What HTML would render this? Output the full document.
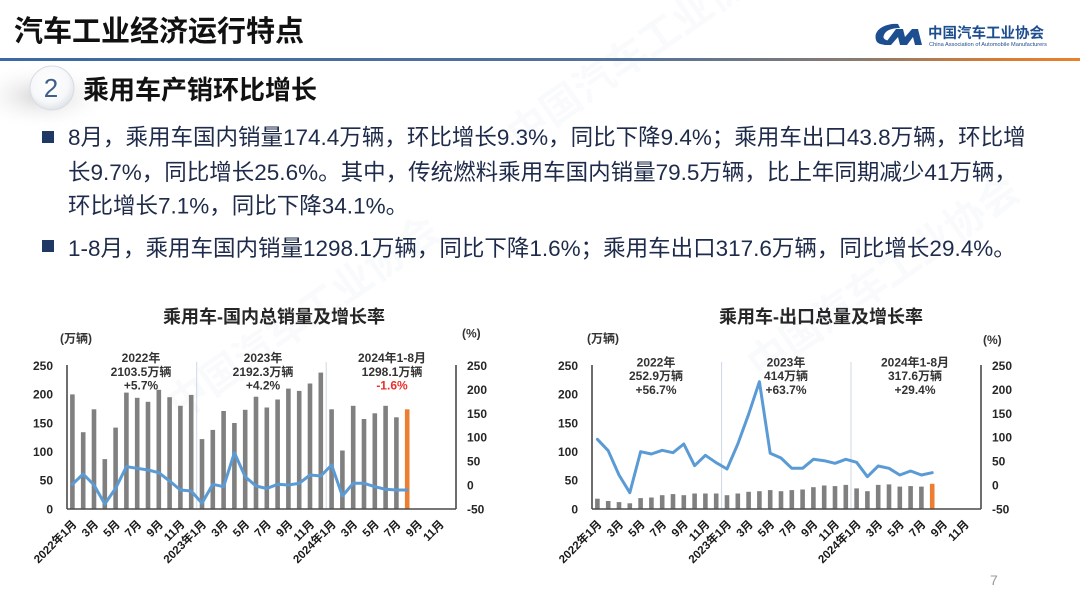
<!DOCTYPE html>
<html><head><meta charset="utf-8">
<style>
html,body{margin:0;padding:0;background:#fff;width:1080px;height:607px;overflow:hidden;}
svg{display:block}
text{font-family:"Liberation Sans","Noto Sans CJK SC",sans-serif;}
.b{font-weight:bold}
.tk{font-size:12px;font-weight:bold;fill:#262626}
.xl{font-size:11.5px;font-weight:bold;fill:#1a1a1a}
.an{font-size:12px;font-weight:bold;fill:#333}
.body{font-size:22.5px;fill:#1f2b4a}
</style></head><body>
<svg width="1080" height="607" viewBox="0 0 1080 607" xmlns="http://www.w3.org/2000/svg">
<defs>
<linearGradient id="hl" x1="0" x2="1" y1="0" y2="0">
<stop offset="0" stop-color="#3b69a3"/>
<stop offset="0.6" stop-color="#56739a"/>
<stop offset="0.8" stop-color="#8c7b6e"/>
<stop offset="0.92" stop-color="#d47c35"/>
<stop offset="1" stop-color="#e8822e"/>
</linearGradient>
<radialGradient id="sh" cx="0.5" cy="0.5" r="0.5">
<stop offset="0" stop-color="#c8c8c8" stop-opacity="0.8"/>
<stop offset="1" stop-color="#ffffff" stop-opacity="0"/>
</radialGradient>
<radialGradient id="cg" cx="0.45" cy="0.4" r="0.6">
<stop offset="0" stop-color="#ffffff"/>
<stop offset="0.7" stop-color="#f7f8fa"/>
<stop offset="1" stop-color="#dfe3e8"/>
</radialGradient>
</defs>

<!-- watermarks -->
<g opacity="0.035" fill="#4a6a9a">
<text x="0" y="0" font-size="40" class="b" transform="translate(520,150) rotate(-35)">中国汽车工业协会</text>
<text x="0" y="0" font-size="40" class="b" transform="translate(760,380) rotate(-35)">中国汽车工业协会</text>
<text x="0" y="0" font-size="40" class="b" transform="translate(180,420) rotate(-35)">中国汽车工业协会</text>
</g>

<!-- header -->
<text x="14" y="41" font-size="29" class="b" fill="#111">汽车工业经济运行特点</text>
<path d="M898,24 C885,23 873,30 876,40 C877,44 882,45 890,45 L893,41 C886,41 882,39 884,35 C886,30 892,28 900,28 Z" fill="#1d4e8f"/>
<polygon points="884,45 896,29 903,29 905,37 912,29 918,29 922,45 915,45 913,37 907,45 900,45 898,37 891,45" fill="#1d4e8f"/>
<text x="928" y="38" font-size="14.5" class="b" fill="#1d4e8f">中国汽车工业协会</text>
<text x="929" y="46" font-size="5" fill="#1d4e8f" textLength="118" lengthAdjust="spacingAndGlyphs">China Association of Automobile Manufacturers</text>
<rect x="0" y="58" width="1080" height="3" fill="url(#hl)"/>

<!-- section heading -->
<ellipse cx="42" cy="96" rx="70" ry="34" fill="url(#sh)"/>
<circle cx="52" cy="88" r="22" fill="url(#cg)" stroke="#d9dde2" stroke-width="1"/>
<text x="51" y="97" font-size="26" text-anchor="middle" fill="#3f5f8a">2</text>
<text x="83" y="99" font-size="26" class="b" fill="#111">乘用车产销环比增长</text>

<!-- body -->
<rect x="42" y="131" width="12" height="12" fill="#1f3864"/>
<text class="body" x="68" y="145">8月，乘用车国内销量174.4万辆，环比增长9.3%，同比下降9.4%；乘用车出口43.8万辆，环比增</text>
<text class="body" x="68" y="180">长9.7%，同比增长25.6%。其中，传统燃料乘用车国内销量79.5万辆，比上年同期减少41万辆，</text>
<text class="body" x="68" y="213.5">环比增长7.1%，同比下降34.1%。</text>
<rect x="42" y="240" width="12" height="12" fill="#1f3864"/>
<text class="body" x="68" y="256">1-8月，乘用车国内销量1298.1万辆，同比下降1.6%；乘用车出口317.6万辆，同比增长29.4%。</text>

<!-- ============ LEFT CHART ============ -->
<text x="274" y="323" font-size="18" class="b" fill="#262626" text-anchor="middle">乘用车-国内总销量及增长率</text>
<text x="60" y="342.5" class="an" fill="#262626">(万辆)</text>
<text x="462" y="337.5" class="an" fill="#262626">(%)</text>

<line x1="196.7" y1="362" x2="196.7" y2="509" stroke="#cdd8e6" stroke-width="1"/>
<line x1="326.2" y1="362" x2="326.2" y2="509" stroke="#cdd8e6" stroke-width="1"/>

<g fill="#808080">
<rect x="70.1" y="394.4" width="4.6" height="114.6"/>
<rect x="80.9" y="432.2" width="4.6" height="76.8"/>
<rect x="91.7" y="409.3" width="4.6" height="99.7"/>
<rect x="102.5" y="459.1" width="4.6" height="49.9"/>
<rect x="113.3" y="427.6" width="4.6" height="81.4"/>
<rect x="124.1" y="392.6" width="4.6" height="116.4"/>
<rect x="134.9" y="397.8" width="4.6" height="111.2"/>
<rect x="145.7" y="401.8" width="4.6" height="107.2"/>
<rect x="156.5" y="389.8" width="4.6" height="119.2"/>
<rect x="167.3" y="397.2" width="4.6" height="111.8"/>
<rect x="178.1" y="405.8" width="4.6" height="103.2"/>
<rect x="188.9" y="394.9" width="4.6" height="114.1"/>
<rect x="199.7" y="439.1" width="4.6" height="69.9"/>
<rect x="210.5" y="429.9" width="4.6" height="79.1"/>
<rect x="221.3" y="411" width="4.6" height="98"/>
<rect x="232.1" y="423" width="4.6" height="86"/>
<rect x="242.9" y="409.8" width="4.6" height="99.2"/>
<rect x="253.7" y="396.7" width="4.6" height="112.3"/>
<rect x="264.5" y="407.5" width="4.6" height="101.5"/>
<rect x="275.3" y="399.5" width="4.6" height="109.5"/>
<rect x="286.1" y="388.6" width="4.6" height="120.4"/>
<rect x="296.9" y="390.9" width="4.6" height="118.1"/>
<rect x="307.7" y="383.5" width="4.6" height="125.5"/>
<rect x="318.5" y="372.6" width="4.6" height="136.4"/>
<rect x="329.3" y="409.3" width="4.6" height="99.7"/>
<rect x="340.1" y="450.5" width="4.6" height="58.5"/>
<rect x="350.9" y="405.8" width="4.6" height="103.2"/>
<rect x="361.7" y="419" width="4.6" height="90"/>
<rect x="372.5" y="413.3" width="4.6" height="95.7"/>
<rect x="383.3" y="405.8" width="4.6" height="103.2"/>
<rect x="394.1" y="417.3" width="4.6" height="91.7"/>
</g>
<rect x="404.9" y="409.3" width="4.6" height="99.7" fill="#ed7d31"/>

<polyline fill="none" stroke="#5b9bd5" stroke-width="3" stroke-linejoin="round" stroke-linecap="round"
points="72.4,484.3 83.2,474 94,485 104.8,504 115.6,488.3 126.4,466.7 137.2,468.3 148,470 158.8,472.7 169.6,481 180.4,490 191.2,491 202,503.3 212.8,484.3 223.6,486.7 234.4,452.7 245.2,476.7 256,486 266.8,488.5 277.6,484.3 288.4,485 299.2,483.3 310,475 320.8,476 331.6,465 342.4,496 353.2,483.3 364,483.3 374.8,486.7 385.6,489.3 396.4,490 407.2,490"/>

<g stroke="#4a4a4a" stroke-width="1.6">
<line x1="67" y1="365" x2="67" y2="509"/>
<line x1="67" y1="509" x2="456" y2="509"/>
<line x1="456" y1="365" x2="456" y2="509"/>
</g>

<g class="tk" text-anchor="end">
<text x="53" y="370">250</text>
<text x="53" y="398.7">200</text>
<text x="53" y="427.3">150</text>
<text x="53" y="456">100</text>
<text x="53" y="484.6">50</text>
<text x="53" y="513.3">0</text>
</g>
<g class="tk">
<text x="467" y="370">250</text>
<text x="467" y="393.9">200</text>
<text x="467" y="417.8">150</text>
<text x="467" y="441.7">100</text>
<text x="467" y="465.6">50</text>
<text x="467" y="489.5">0</text>
<text x="467" y="513.3">-50</text>
</g>

<g class="an" text-anchor="middle">
<text x="141" y="362">2022年</text>
<text x="141" y="376">2103.5万辆</text>
<text x="141" y="389.5">+5.7%</text>
<text x="263" y="362">2023年</text>
<text x="263" y="376">2192.3万辆</text>
<text x="263" y="389.5">+4.2%</text>
<text x="392" y="362">2024年1-8月</text>
<text x="392" y="376">1298.1万辆</text>
<text x="392" y="389.5" fill="#e8302a">-1.6%</text>
</g>

<g class="xl" text-anchor="end">
<text transform="translate(77.4,525) rotate(-45)">2022年1月</text>
<text transform="translate(99,525) rotate(-45)">3月</text>
<text transform="translate(120.6,525) rotate(-45)">5月</text>
<text transform="translate(142.2,525) rotate(-45)">7月</text>
<text transform="translate(163.8,525) rotate(-45)">9月</text>
<text transform="translate(185.4,525) rotate(-45)">11月</text>
<text transform="translate(207,525) rotate(-45)">2023年1月</text>
<text transform="translate(228.6,525) rotate(-45)">3月</text>
<text transform="translate(250.2,525) rotate(-45)">5月</text>
<text transform="translate(271.8,525) rotate(-45)">7月</text>
<text transform="translate(293.4,525) rotate(-45)">9月</text>
<text transform="translate(315,525) rotate(-45)">11月</text>
<text transform="translate(336.6,525) rotate(-45)">2024年1月</text>
<text transform="translate(358.2,525) rotate(-45)">3月</text>
<text transform="translate(379.8,525) rotate(-45)">5月</text>
<text transform="translate(401.4,525) rotate(-45)">7月</text>
<text transform="translate(423,525) rotate(-45)">9月</text>
<text transform="translate(444.6,525) rotate(-45)">11月</text>
</g>

<!-- ============ RIGHT CHART ============ -->
<text x="821" y="323" font-size="18" class="b" fill="#262626" text-anchor="middle">乘用车-出口总量及增长率</text>
<text x="587" y="342.5" class="an" fill="#262626">(万辆)</text>
<text x="983" y="344" class="an" fill="#262626">(%)</text>

<line x1="721.6" y1="362" x2="721.6" y2="509" stroke="#cdd8e6" stroke-width="1"/>
<line x1="851" y1="362" x2="851" y2="509" stroke="#cdd8e6" stroke-width="1"/>

<g fill="#808080">
<rect x="595.1" y="498.7" width="4.6" height="10.3"/>
<rect x="605.9" y="501" width="4.6" height="8"/>
<rect x="616.7" y="502.1" width="4.6" height="6.9"/>
<rect x="627.5" y="503.3" width="4.6" height="5.7"/>
<rect x="638.3" y="498.1" width="4.6" height="10.9"/>
<rect x="649.1" y="497.5" width="4.6" height="11.5"/>
<rect x="659.9" y="495.2" width="4.6" height="13.8"/>
<rect x="670.7" y="494.1" width="4.6" height="14.9"/>
<rect x="681.5" y="495.2" width="4.6" height="13.8"/>
<rect x="692.3" y="493.5" width="4.6" height="15.5"/>
<rect x="703.1" y="493.5" width="4.6" height="15.5"/>
<rect x="713.9" y="493.5" width="4.6" height="15.5"/>
<rect x="724.7" y="495.2" width="4.6" height="13.8"/>
<rect x="735.5" y="493.5" width="4.6" height="15.5"/>
<rect x="746.3" y="491.8" width="4.6" height="17.2"/>
<rect x="757.1" y="491.2" width="4.6" height="17.8"/>
<rect x="767.9" y="490.1" width="4.6" height="18.9"/>
<rect x="778.7" y="491.2" width="4.6" height="17.8"/>
<rect x="789.5" y="490.1" width="4.6" height="18.9"/>
<rect x="800.3" y="489.5" width="4.6" height="19.5"/>
<rect x="811.1" y="487.2" width="4.6" height="21.8"/>
<rect x="821.9" y="485.5" width="4.6" height="23.5"/>
<rect x="832.7" y="486.1" width="4.6" height="22.9"/>
<rect x="843.5" y="484.9" width="4.6" height="24.1"/>
<rect x="854.3" y="488.4" width="4.6" height="20.6"/>
<rect x="865.1" y="491.2" width="4.6" height="17.8"/>
<rect x="875.9" y="484.9" width="4.6" height="24.1"/>
<rect x="886.7" y="484.4" width="4.6" height="24.6"/>
<rect x="897.5" y="486.6" width="4.6" height="22.4"/>
<rect x="908.3" y="486.1" width="4.6" height="22.9"/>
<rect x="919.1" y="486.6" width="4.6" height="22.4"/>
</g>
<rect x="929.9" y="483.8" width="4.6" height="25.2" fill="#ed7d31"/>

<polyline fill="none" stroke="#5b9bd5" stroke-width="3" stroke-linejoin="round" stroke-linecap="round"
points="597.4,439.3 608.2,450.7 619,475 629.8,492.7 640.6,451.7 651.4,454 662.2,450.3 673,452.7 683.8,444 694.6,465.7 705.4,455.3 716.2,462.7 727,469 737.8,444 748.6,414.3 759.4,381.7 770.2,453.3 781,458 791.8,468.3 802.6,468.3 813.4,459.3 824.2,460.7 835,463.3 845.8,459.3 856.6,462.3 867.4,476.7 878.2,466 889,468.3 899.8,475 910.6,471 921.4,475 932.2,472.7"/>

<g stroke="#4a4a4a" stroke-width="1.6">
<line x1="592" y1="365" x2="592" y2="509"/>
<line x1="592" y1="509" x2="981" y2="509"/>
<line x1="981" y1="365" x2="981" y2="509"/>
</g>

<g class="tk" text-anchor="end">
<text x="578" y="370">250</text>
<text x="578" y="398.7">200</text>
<text x="578" y="427.3">150</text>
<text x="578" y="456">100</text>
<text x="578" y="484.6">50</text>
<text x="578" y="513.3">0</text>
</g>
<g class="tk">
<text x="992" y="370">250</text>
<text x="992" y="393.9">200</text>
<text x="992" y="417.8">150</text>
<text x="992" y="441.7">100</text>
<text x="992" y="465.6">50</text>
<text x="992" y="489.5">0</text>
<text x="992" y="513.3">-50</text>
</g>

<g class="an" text-anchor="middle">
<text x="656" y="366.5">2022年</text>
<text x="656" y="380">252.9万辆</text>
<text x="656" y="394">+56.7%</text>
<text x="786" y="366.5">2023年</text>
<text x="786" y="380">414万辆</text>
<text x="786" y="394">+63.7%</text>
<text x="915" y="366.5">2024年1-8月</text>
<text x="915" y="380">317.6万辆</text>
<text x="915" y="394">+29.4%</text>
</g>

<g class="xl" text-anchor="end">
<text transform="translate(602.4,525) rotate(-45)">2022年1月</text>
<text transform="translate(624,525) rotate(-45)">3月</text>
<text transform="translate(645.6,525) rotate(-45)">5月</text>
<text transform="translate(667.2,525) rotate(-45)">7月</text>
<text transform="translate(688.8,525) rotate(-45)">9月</text>
<text transform="translate(710.4,525) rotate(-45)">11月</text>
<text transform="translate(732,525) rotate(-45)">2023年1月</text>
<text transform="translate(753.6,525) rotate(-45)">3月</text>
<text transform="translate(775.2,525) rotate(-45)">5月</text>
<text transform="translate(796.8,525) rotate(-45)">7月</text>
<text transform="translate(818.4,525) rotate(-45)">9月</text>
<text transform="translate(840,525) rotate(-45)">11月</text>
<text transform="translate(861.6,525) rotate(-45)">2024年1月</text>
<text transform="translate(883.2,525) rotate(-45)">3月</text>
<text transform="translate(904.8,525) rotate(-45)">5月</text>
<text transform="translate(926.4,525) rotate(-45)">7月</text>
<text transform="translate(948,525) rotate(-45)">9月</text>
<text transform="translate(969.6,525) rotate(-45)">11月</text>
</g>

<!-- page number -->
<text x="990" y="585" font-size="14" fill="#999">7</text>
</svg>
</body></html>
